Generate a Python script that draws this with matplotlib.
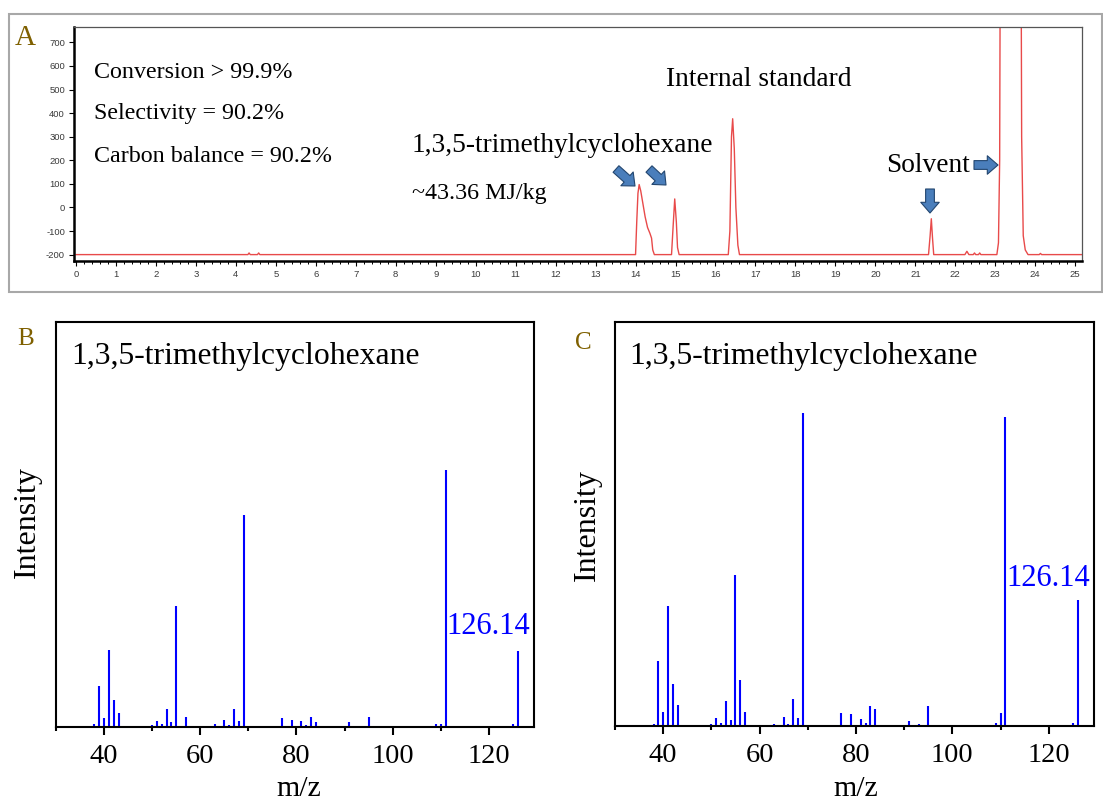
import matplotlib
matplotlib.use('Agg')
import matplotlib.pyplot as plt
from matplotlib.patches import Rectangle
from matplotlib.ticker import MultipleLocator

plt.rcParams['axes.unicode_minus'] = False

# ---------------- data ----------------
# Panel A: GC trace (retention time / min, detector signal), vertices
gc_time = [0, 4.30, 4.33, 4.36, 4.54, 4.57, 4.60, 14.00, 14.03, 14.06, 14.09, 14.13,
           14.18, 14.24, 14.30, 14.36, 14.40, 14.43, 14.47, 14.90, 14.94, 14.98, 15.02,
           15.05, 15.09, 16.32, 16.36, 16.40, 16.43, 16.47, 16.51, 16.56, 16.60, 21.33,
           21.37, 21.40, 21.43, 21.46, 22.24, 22.29, 22.34, 22.45, 22.48, 22.51, 22.58,
           22.61, 22.64, 23.04, 23.08, 23.11, 23.14, 23.63, 23.66, 23.70, 23.75, 23.82,
           24.10, 24.13, 24.16, 25.2]
gc_signal = [-200, -200, -193, -200, -200, -193, -200, -200, -60, 60, 97, 70,
             20, -40, -85, -110, -130, -180, -200, -200, -80, 36, -60,
             -170, -200, -200, -100, 300, 376, 250, 0, -160, -200, -200,
             -120, -48, -130, -200, -200, -186, -200, -200, -193, -200, -200,
             -193, -200, -200, -150, 200, 2000, 2000, 300, -120, -180, -200,
             -200, -195, -200, -200]
gc_xticks = list(range(0, 26))
gc_yticks = list(range(-200, 701, 100))

# Panel B: mass spectrum (m/z, relative intensity %)
mz_b = [38, 39, 40, 41, 42, 43, 50, 51, 52, 53, 54, 55, 57, 62, 63, 65, 66, 67, 68, 69,
        77, 79, 81, 82, 83, 84, 91, 95, 109, 110, 111, 125, 126]
int_b = [1.2, 16.1, 3.5, 29.8, 10.5, 5.4, 0.8, 2.3, 1.2, 7.0, 2.1, 47.1, 3.9, 0.4, 1.2,
         2.7, 0.8, 7.0, 2.3, 82.5, 3.5, 2.9, 2.2, 0.9, 3.9, 1.8, 1.8, 3.7, 1.3, 1.3,
         100.0, 1.3, 29.6]

# Panel C: mass spectrum (m/z, relative intensity %)
mz_c = [38, 39, 40, 41, 42, 43, 50, 51, 52, 53, 54, 55, 56, 57, 63, 65, 66, 67, 68, 69,
        77, 79, 81, 82, 83, 84, 91, 93, 95, 109, 110, 111, 125, 126]
int_c = [0.5, 20.8, 4.6, 38.2, 13.4, 6.6, 0.5, 2.6, 1.0, 8.0, 1.9, 48.1, 14.8, 4.5, 0.6,
         3.0, 0.7, 8.5, 2.7, 100.0, 4.2, 3.8, 2.2, 1.1, 6.3, 5.4, 1.7, 0.5, 6.4, 1.0,
         4.0, 98.7, 0.8, 40.4]

ms_xticks = [40, 60, 80, 100, 120]
compound = "1,3,5-trimethylcyclohexane"
mol_ion = "126.14"

# ---------------- layout helpers ----------------
W, H = 1103, 805
fig = plt.figure(figsize=(W / 100, H / 100), dpi=100)
fig.patch.set_facecolor('white')


def fx(x):
    return x / W


def fy(y):
    return 1 - y / H


SERIF = 'Liberation Serif'
GOLD = '#7f6000'

# ---------------- Panel A ----------------
fig.add_artist(Rectangle((fx(9), fy(292)), fx(1093), (292 - 14) / H, transform=fig.transFigure,
                         fill=False, ec='#a8a8a8', lw=1.5))

axA = fig.add_axes([fx(74), fy(260.5), fx(1082 - 74), (260.5 - 27) / H])
axA.plot(gc_time, gc_signal, color='#e84a4a', lw=1.0)
axA.set_xlim(-0.05, 25.17)
axA.set_ylim(-225, 765)
axA.set_xticks(gc_xticks)
axA.set_yticks(gc_yticks)
axA.xaxis.set_minor_locator(MultipleLocator(0.2))
axA.tick_params(axis='both', which='major', direction='out', length=3.5, width=0.8,
                labelsize=6.8, labelcolor='#3a3a3a', pad=3)
axA.tick_params(axis='x', which='minor', direction='out', length=2, width=0.7)
for lab in axA.get_xticklabels() + axA.get_yticklabels():
    lab.set_fontfamily('Liberation Sans')
for s in ['left', 'bottom']:
    axA.spines[s].set_linewidth(1.8)
    axA.spines[s].set_color('black')
for s in ['top', 'right']:
    axA.spines[s].set_linewidth(0.9)
    axA.spines[s].set_color('#555555')

fig.text(fx(15), fy(38), 'A', family=SERIF, fontsize=21, color=GOLD, ha='left', va='center')
fig.text(fx(94), fy(72), 'Conversion > 99.9%', family=SERIF, fontsize=17.3, ha='left', va='center')
fig.text(fx(94), fy(114), 'Selectivity = 90.2%', family=SERIF, fontsize=17.3, ha='left', va='center')
fig.text(fx(94), fy(156), 'Carbon balance = 90.2%', family=SERIF, fontsize=17.3, ha='left', va='center')
fig.text(fx(412), fy(145), compound, family=SERIF, fontsize=19.7, ha='left', va='center')
fig.text(fx(412), fy(194), '~43.36 MJ/kg', family=SERIF, fontsize=17.3, ha='left', va='center')
fig.text(fx(666), fy(79), 'Internal standard', family=SERIF, fontsize=19.7, ha='left', va='center')
fig.text(fx(886), fy(165), 'Solvent', family=SERIF, fontsize=19.7, ha='left', va='center')

arrow_style = dict(arrowstyle='simple,head_length=0.55,head_width=0.95,tail_width=0.45',
                   fc='#4a7ebb', ec='#23466f', lw=0.8, mutation_scale=14, shrinkA=0, shrinkB=0)
for (x0, y0, x1, y1) in [(616, 169, 635, 186), (649, 169, 666, 185),
                         (930, 189, 930, 213), (974, 165, 998, 165)]:
    fig.add_artist(plt.Annotation('', xy=(x1, H - y1), xytext=(x0, H - y0),
                                  xycoords='figure pixels', textcoords='figure pixels',
                                  arrowprops=arrow_style))

# ---------------- Panels B and C ----------------


def ms_panel(left, right, top, bottom, mz, inten, ytop):
    ax = fig.add_axes([fx(left), fy(bottom), fx(right - left), (bottom - top) / H])
    ax.vlines(mz, 0, inten, color='#0000ff', lw=1.5)
    ax.set_xlim(30, 129.4)
    ax.set_ylim(0, ytop)
    ax.set_xticks(ms_xticks)
    ax.xaxis.set_minor_locator(MultipleLocator(10))
    ax.set_yticks([])
    ax.tick_params(axis='x', which='major', direction='out', length=6, width=1.5,
                   labelsize=20.5, pad=6)
    ax.tick_params(axis='x', which='minor', direction='out', length=3, width=1.5)
    for lab in ax.get_xticklabels():
        lab.set_fontfamily(SERIF)
    for s in ax.spines.values():
        s.set_linewidth(1.5)
        s.set_color('black')
    return ax


axB = ms_panel(56, 534, 322, 727, mz_b, int_b, 157.6)
axC = ms_panel(615, 1094, 322, 726, mz_c, int_c, 129.1)

fig.text(fx(17), fy(339), 'B', family=SERIF, fontsize=18, color=GOLD, ha='left', va='center')
fig.text(fx(575), fy(343), 'C', family=SERIF, fontsize=18, color=GOLD, ha='left', va='center')

fig.text(fx(71), fy(356), compound, family=SERIF, fontsize=22.8, ha='left', va='center')
fig.text(fx(629), fy(356), compound, family=SERIF, fontsize=22.8, ha='left', va='center')

fig.text(fx(446), fy(627), mol_ion, family=SERIF, fontsize=22, color='#0000ff', ha='left', va='center')
fig.text(fx(1006), fy(578), mol_ion, family=SERIF, fontsize=22, color='#0000ff', ha='left', va='center')

fig.text(fx(27), fy(522), 'Intensity', family=SERIF, fontsize=23, rotation=90, ha='center', va='center')
fig.text(fx(587), fy(525), 'Intensity', family=SERIF, fontsize=23, rotation=90, ha='center', va='center')

fig.text(fx(299), fy(789), 'm/z', family=SERIF, fontsize=21.5, ha='center', va='center')
fig.text(fx(856), fy(789), 'm/z', family=SERIF, fontsize=21.5, ha='center', va='center')

fig.savefig('out.png', dpi=100)
